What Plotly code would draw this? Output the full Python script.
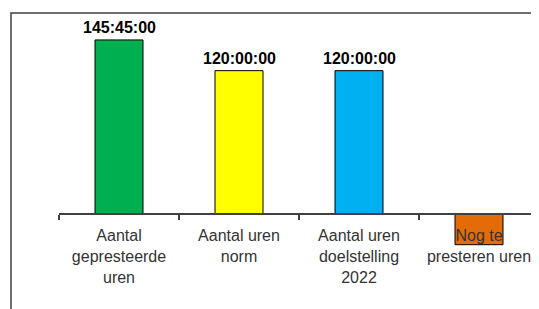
import plotly.graph_objects as go

categories = ["Aantal<br>gepresteerde<br>uren", "Aantal uren<br>norm",
              "Aantal uren<br>doelstelling<br>2022", "Nog te<br>presteren uren"]
hours = [145.75, 120.0, 120.0, -25.75]
colors = ["#00B050", "#FFFF00", "#00B0F0", "#E36C09"]
show_label = [True, True, True, False]


def fmt(h):
    total = int(round(abs(h) * 3600))
    return "%d:%02d:%02d" % (total // 3600, (total % 3600) // 60, total % 60)


# page body has an 8px margin
W, H = 531, 301
mt, mb, ml, mr = 5, 0, 3, 0
ymax, ymin = 168.3, -79.6
zero_pos = (0 - ymin) / (ymax - ymin)

fig = go.Figure()
fig.add_trace(go.Bar(
    x=categories, y=hours,
    marker=dict(color=colors, line=dict(color="#000000", width=1)),
    hoverinfo="skip",
))

for c, h, s in zip(categories, hours, show_label):
    if s:
        fig.add_annotation(x=c, y=h, text="<b>" + fmt(h) + "</b>", showarrow=False,
                           yanchor="bottom", yshift=2,
                           font=dict(family="Liberation Sans, Arial", size=16, color="#000000"))

fig.add_shape(type="rect", xref="paper", yref="paper", x0=0, x1=1.1, y0=-0.2, y1=1,
              line=dict(color="#404040", width=1.5), layer="below")

fig.update_layout(
    width=W, height=H,
    margin=dict(l=ml, r=mr, t=mt, b=mb, autoexpand=False),
    paper_bgcolor="white", plot_bgcolor="white",
    bargap=0.6, showlegend=False,
    font=dict(family="Liberation Sans, Arial", size=16, color="#333333"),
    xaxis=dict(domain=[48 / 528, 1], anchor="free", position=zero_pos,
               automargin=False,
               showline=True, linecolor="#404040", linewidth=1.5,
               ticks="outside", tickson="boundaries", ticklen=5, tickcolor="#404040",
               tickwidth=1.5, showgrid=False, zeroline=False,
               ticklabelstandoff=7,
               tickfont=dict(size=16, color="#333333")),
    yaxis=dict(range=[ymin, ymax], visible=False, showgrid=False, zeroline=False,
               automargin=False),
)

fig.write_html("out.html")
